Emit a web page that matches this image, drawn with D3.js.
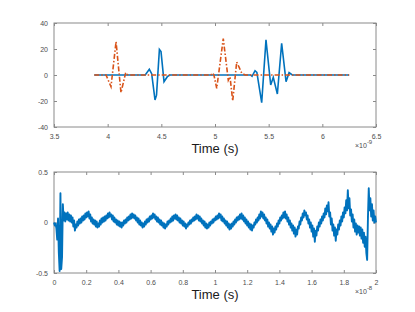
<!DOCTYPE html>
<html>
<head>
<meta charset="utf-8">
<script src="https://cdn.jsdelivr.net/npm/d3@7"></script>
<style>
  body { margin: 0; background: #fff; }
  text { font-family: "Liberation Sans", Arial, sans-serif; }
</style>
</head>
<body>
<script>
// ---- top panel: two pulse trains (time in 1e-9 s)
var blueT = [3.875, 4.35, 4.388, 4.41, 4.441, 4.455, 4.482, 4.497, 4.525, 4.556, 4.58,
             5.33, 5.345, 5.373, 5.39, 5.435, 5.475, 5.519, 5.543, 5.581, 5.621, 5.662, 5.69, 5.72, 6.25];
var blueV = [0, 0, 4.4, 1, -19.2, -15.5, 19.7, 18, -5.1, -1.3, 0,
             0, -1, 3.3, 2, -21.3, 27, -7.7, -1.8, -14.6, 24.4, -5.1, 1.8, 0, 0];

var orangeT = [3.875, 3.985, 4.031, 4.078, 4.124, 4.168, 4.19,
               4.96, 4.979, 4.99, 5.016, 5.077, 5.124, 5.14, 5.165, 5.202, 5.224, 5.249, 5.28, 6.25];
var orangeV = [0, 0, -9, 25.6, -13.6, 1.8, 0,
               0, 1.5, 0, -10.3, 28, -4, -1.3, -20, 10, 6, 1.5, 0, 0];

var topXTicks = [3.5, 4, 4.5, 5, 5.5, 6, 6.5];
var topYTicks = [-40, -20, 0, 20, 40];

// ---- bottom panel: noisy response, one sample every 0.005 (x1e-8 s)
var sampleStep = 0.005;
var respV = [
  0.00,-0.03,-0.01,-0.06,-0.17, 0.04,-0.30,-0.48, 0.29,-0.46,-0.34, 0.18, 0.02, 0.10, 0.01, 0.09, 0.03, 0.10, 0.02, 0.08,
  0.01, 0.07, 0.00, 0.05,-0.04, 0.02,-0.08,-0.02,-0.05, 0.01,-0.03, 0.03,-0.01, 0.04, 0.00, 0.06, 0.02, 0.07, 0.03, 0.09,
  0.05, 0.10, 0.06, 0.11, 0.04, 0.08, 0.01, 0.05,-0.01, 0.03,-0.02, 0.02,-0.04, 0.01,-0.05,-0.01,-0.04, 0.02,-0.02, 0.04,
  0.00, 0.05, 0.01, 0.06, 0.02, 0.07, 0.04, 0.09, 0.05, 0.10, 0.06, 0.08, 0.03, 0.07, 0.01, 0.05, 0.00, 0.03,-0.02, 0.02,
 -0.03, 0.01,-0.04, 0.00,-0.05, 0.00,-0.03, 0.02,-0.01, 0.03, 0.00, 0.05, 0.02, 0.06, 0.03, 0.08, 0.04, 0.09, 0.05, 0.08,
  0.04, 0.07, 0.02, 0.05, 0.00, 0.04,-0.02, 0.02,-0.03, 0.00,-0.05,-0.01,-0.04, 0.01,-0.02, 0.03, 0.00, 0.04, 0.01, 0.06,
  0.03, 0.07, 0.04, 0.09, 0.05, 0.08, 0.03, 0.06, 0.01, 0.05, 0.00, 0.03,-0.02, 0.02,-0.03, 0.00,-0.05,-0.01,-0.06,-0.02,
 -0.04, 0.01,-0.02, 0.02, 0.00, 0.04, 0.01, 0.06, 0.02, 0.07, 0.04, 0.08, 0.03, 0.07, 0.02, 0.05, 0.00, 0.04,-0.01, 0.02,
 -0.03, 0.01,-0.04,-0.01,-0.06,-0.02,-0.04, 0.00,-0.02, 0.02,-0.01, 0.03, 0.01, 0.05, 0.02, 0.06, 0.03, 0.08, 0.04, 0.07,
  0.02, 0.06, 0.01, 0.04,-0.01, 0.02,-0.03, 0.01,-0.05,-0.01,-0.06,-0.02,-0.05, 0.00,-0.03, 0.01,-0.01, 0.03, 0.00, 0.04,
  0.02, 0.06, 0.03, 0.07, 0.04, 0.09, 0.05, 0.08, 0.02, 0.06, 0.01, 0.04,-0.01, 0.02,-0.03, 0.01,-0.05,-0.01,-0.07,-0.02,
 -0.06,-0.01,-0.04, 0.01,-0.02, 0.03, 0.00, 0.05, 0.02, 0.06, 0.03, 0.08, 0.04, 0.09, 0.03, 0.07, 0.01, 0.05,-0.01, 0.03,
 -0.03, 0.01,-0.05,-0.01,-0.07,-0.02,-0.08,-0.03,-0.05, 0.00,-0.02, 0.03, 0.00, 0.05, 0.02, 0.08, 0.04, 0.11, 0.06, 0.10,
  0.04, 0.08, 0.02, 0.05,-0.01, 0.03,-0.04, 0.00,-0.06,-0.02,-0.09,-0.04,-0.12,-0.06,-0.10,-0.04,-0.07,-0.01,-0.04, 0.02,
 -0.01, 0.05, 0.02, 0.07, 0.04, 0.10, 0.05, 0.11, 0.04, 0.08, 0.01, 0.05,-0.02, 0.02,-0.05,-0.01,-0.08,-0.03,-0.11,-0.05,
 -0.14,-0.07,-0.12,-0.04,-0.06, 0.01,-0.02, 0.05, 0.02, 0.09, 0.05, 0.12, 0.07, 0.10, 0.03, 0.07,-0.01, 0.03,-0.05, 0.00,
 -0.09,-0.03,-0.14,-0.06,-0.19,-0.08,-0.13,-0.04,-0.08, 0.00,-0.04, 0.03,-0.01, 0.06, 0.02, 0.09, 0.05, 0.14, 0.08, 0.17,
  0.11, 0.20, 0.06, 0.10,-0.02, 0.04,-0.08,-0.02,-0.13,-0.05,-0.18,-0.07,-0.12,-0.02,-0.07, 0.02,-0.03, 0.06, 0.01, 0.10,
  0.05, 0.15, 0.09, 0.22, 0.12, 0.32, 0.14, 0.24, 0.07, 0.13, 0.01, 0.08,-0.05, 0.03,-0.09,-0.01,-0.12,-0.03,-0.10,-0.04,
 -0.13,-0.05,-0.16,-0.07,-0.20,-0.10,-0.24,-0.14,-0.30,-0.37, 0.05, 0.34, 0.12, 0.24, 0.06, 0.18, 0.02, 0.12, 0.00, 0.06,
  0.00
];
var botXTicks = [0, 0.2, 0.4, 0.6, 0.8, 1, 1.2, 1.4, 1.6, 1.8, 2];
var botYTicks = [-0.5, 0, 0.5];

var blue = "#0072BD", orange = "#D95319";
var W = 415, H = 312;
var left = 54, right = 376;

var svg = d3.select("body").append("svg")
    .attr("width", W)
    .attr("height", H);

// draws one MATLAB-style boxed axes and returns its scales
function panel(top, bottom, xDom, yDom, xTicks, yTicks, expo) {
  var x = d3.scaleLinear().domain(xDom).range([left, right]);
  var y = d3.scaleLinear().domain(yDom).range([bottom, top]);
  var g = svg.append("g");

  var fmt = function(d) { return String(d); };
  var styleAxis = function(sel) {
    sel.select(".domain").remove();
    sel.selectAll(".tick line").attr("stroke", "#8a8a8a");
    sel.selectAll(".tick text").attr("fill", "#4d4d4d")
       .style("font-size", "7px").style("font-family", "'Liberation Sans', Arial, sans-serif");
  };

  g.append("g").attr("transform", "translate(0," + bottom + ")")
    .call(d3.axisBottom(x).tickValues(xTicks).tickFormat(fmt).tickSizeInner(-3).tickSizeOuter(0).tickPadding(7))
    .call(styleAxis);
  g.append("g").attr("transform", "translate(0," + top + ")")
    .call(d3.axisTop(x).tickValues(xTicks).tickFormat("").tickSizeInner(-3).tickSizeOuter(0))
    .call(styleAxis);
  g.append("g").attr("transform", "translate(" + left + ",0)")
    .call(d3.axisLeft(y).tickValues(yTicks).tickFormat(fmt).tickSizeInner(-3).tickSizeOuter(0).tickPadding(6))
    .call(styleAxis);
  g.append("g").attr("transform", "translate(" + right + ",0)")
    .call(d3.axisRight(y).tickValues(yTicks).tickFormat("").tickSizeInner(-3).tickSizeOuter(0))
    .call(styleAxis);

  g.append("rect")
    .attr("x", left).attr("y", top)
    .attr("width", right - left).attr("height", bottom - top)
    .attr("fill", "none").attr("stroke", "#8a8a8a").attr("stroke-width", 1);

  g.append("text")
    .attr("x", (left + right) / 2).attr("y", bottom + 26)
    .attr("text-anchor", "middle")
    .style("font-size", "13px").attr("fill", "#1a1a1a")
    .text("Time (s)");

  var ex = g.append("text")
    .attr("x", 355).attr("y", bottom + 21)
    .style("font-size", "7px").attr("fill", "#4d4d4d");
  ex.append("tspan").text("\u00d710");
  ex.append("tspan").attr("dy", -4).style("font-size", "6px").text(expo);

  return {x: x, y: y, g: g};
}

// top panel
var p1 = panel(23, 127, [3.5, 6.5], [-40, 40], topXTicks, topYTicks, "-9");
var line1 = d3.line()
    .x(function(d) { return p1.x(d[0]); })
    .y(function(d) { return p1.y(d[1]); });

p1.g.append("path")
    .datum(d3.zip(blueT, blueV))
    .attr("d", line1)
    .attr("fill", "none").attr("stroke", blue).attr("stroke-width", 1.6);

p1.g.append("path")
    .datum(d3.zip(orangeT, orangeV))
    .attr("d", line1)
    .attr("fill", "none").attr("stroke", orange).attr("stroke-width", 1.6)
    .attr("stroke-dasharray", "5,2,1.5,2");

// bottom panel
var p2 = panel(172, 273, [0, 2], [-0.5, 0.5], botXTicks, botYTicks, "-8");
var line2 = d3.line()
    .x(function(d, i) { return p2.x(i * sampleStep); })
    .y(function(d) { return p2.y(d); });

p2.g.append("path")
    .datum(respV)
    .attr("d", line2)
    .attr("fill", "none").attr("stroke", blue).attr("stroke-width", 1.9)
    .attr("stroke-linejoin", "round");
</script>
</body>
</html>
